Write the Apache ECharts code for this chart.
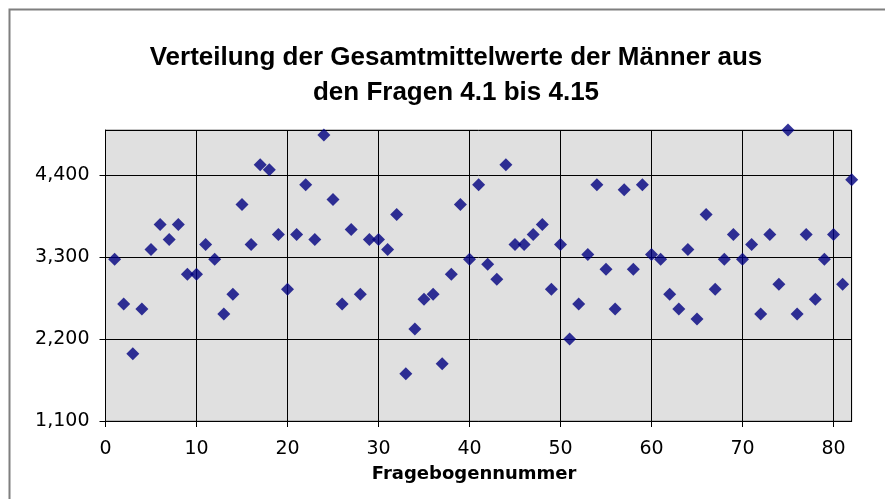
<!DOCTYPE html>
<html>
<head>
<meta charset="utf-8">
<script src="https://cdn.jsdelivr.net/npm/echarts@6/dist/echarts.min.js"></script>
<style>
  html, body { margin: 0; padding: 0; background: #ffffff; }
  #chart { width: 885px; height: 499px; }
</style>
</head>
<body>
<div id="chart"></div>
<script>
// Fragebogennummer (x) and Gesamtmittelwert (y)
const questionnaireNumbers = [
  1, 2, 3, 4, 5, 6, 7, 8, 9, 10,
  11, 12, 13, 14, 15, 16, 17, 18, 19, 20,
  21, 22, 23, 24, 25, 26, 27, 28, 29, 30,
  31, 32, 33, 34, 35, 36, 37, 38, 39, 40,
  41, 42, 43, 44, 45, 46, 47, 48, 49, 50,
  51, 52, 53, 54, 55, 56, 57, 58, 59, 60,
  61, 62, 63, 64, 65, 66, 67, 68, 69, 70,
  71, 72, 73, 74, 75, 76, 77, 78, 79, 80,
  81, 82
];
const meanValues = [
  3.267, 2.667, 2.000, 2.600, 3.400, 3.733, 3.533, 3.733, 3.067, 3.067,
  3.467, 3.267, 2.533, 2.800, 4.000, 3.467, 4.533, 4.467, 3.600, 2.867,
  3.600, 4.267, 3.533, 4.933, 4.067, 2.667, 3.667, 2.800, 3.533, 3.533,
  3.400, 3.867, 1.733, 2.333, 2.733, 2.800, 1.867, 3.067, 4.000, 3.267,
  4.267, 3.200, 3.000, 4.533, 3.467, 3.467, 3.600, 3.733, 2.867, 3.467,
  2.200, 2.667, 3.333, 4.267, 3.133, 2.600, 4.200, 3.133, 4.267, 3.333,
  3.267, 2.800, 2.600, 3.400, 2.467, 3.867, 2.867, 3.267, 3.600, 3.267,
  3.467, 2.533, 3.600, 2.933, 5.000, 2.533, 3.600, 2.733, 3.267, 3.600,
  2.933, 4.333
];
const titleLines = [
  'Verteilung der Gesamtmittelwerte der Männer aus',
  'den Fragen 4.1 bis 4.15'
];
const xAxisTitle = 'Fragebogennummer';
const yTickValues = [1.1, 2.2, 3.3, 4.4];

const points = questionnaireNumbers.map((x, i) => [x, meanValues[i]]);
const TITLE_FONT = '"Liberation Sans", Arial, sans-serif';
const AXIS_FONT = '"DejaVu Sans", Verdana, sans-serif';

const chart = echarts.init(document.getElementById('chart'), null, { renderer: 'canvas' });
chart.setOption({
  animation: false,
  backgroundColor: '#ffffff',
  graphic: [
    {
      type: 'rect', silent: true, z: -10,
      shape: { x: 9.5, y: 9.5, width: 900, height: 520 },
      style: { fill: 'none', stroke: '#7f7f7f', lineWidth: 2 }
    },
    {
      type: 'text', silent: true,
      style: { x: 456, y: 58, text: titleLines[0], textAlign: 'center', textVerticalAlign: 'middle',
               font: 'bold 26px ' + TITLE_FONT, fill: '#000000' }
    },
    {
      type: 'text', silent: true,
      style: { x: 456, y: 93, text: titleLines[1], textAlign: 'center', textVerticalAlign: 'middle',
               font: 'bold 26px ' + TITLE_FONT, fill: '#000000' }
    }
  ],
  grid: {
    left: 105.5, top: 130, width: 746.2, height: 291,
    containLabel: false, outerBoundsMode: 'none',
    show: true, backgroundColor: '#e0e0e0', borderColor: '#8a8a8a', borderWidth: 1
  },
  xAxis: {
    type: 'value', min: 0, max: 82, interval: 10,
    name: xAxisTitle, nameLocation: 'middle', nameGap: 44,
    nameTextStyle: { fontFamily: AXIS_FONT, fontSize: 18, fontWeight: 'bold', color: '#000', padding: [0, 9, 0, 0] },
    axisLine: { show: true, onZero: false, lineStyle: { color: '#000', width: 1 } },
    axisTick: { show: true, inside: false, length: 6, lineStyle: { color: '#000' } },
    axisLabel: {
      margin: 19, fontFamily: AXIS_FONT, fontSize: 19, color: '#000',
      showMaxLabel: false,
      formatter: v => (v % 10 === 0 ? String(v) : '')
    },
    splitLine: { show: true, lineStyle: { color: '#000', width: 1 } }
  },
  yAxis: {
    type: 'value', min: 1.1, max: 5, interval: 1.1,
    axisLine: { show: true, onZero: false, lineStyle: { color: '#000', width: 1 } },
    axisTick: { show: true, inside: false, length: 6, lineStyle: { color: '#000' } },
    axisLabel: {
      margin: 16, fontFamily: AXIS_FONT, fontSize: 19, color: '#000',
      showMaxLabel: false,
      formatter: v => {
        const hit = yTickValues.find(t => Math.abs(t - v) < 1e-6);
        return hit === undefined ? '' : hit.toFixed(3).replace('.', ',');
      }
    },
    splitLine: { show: true, lineStyle: { color: '#000', width: 1 } }
  },
  series: [{
    type: 'scatter',
    data: points,
    symbol: 'diamond',
    symbolSize: [13, 13],
    itemStyle: { color: '#000080' },
    clip: false
  }]
});
</script>
</body>
</html>
